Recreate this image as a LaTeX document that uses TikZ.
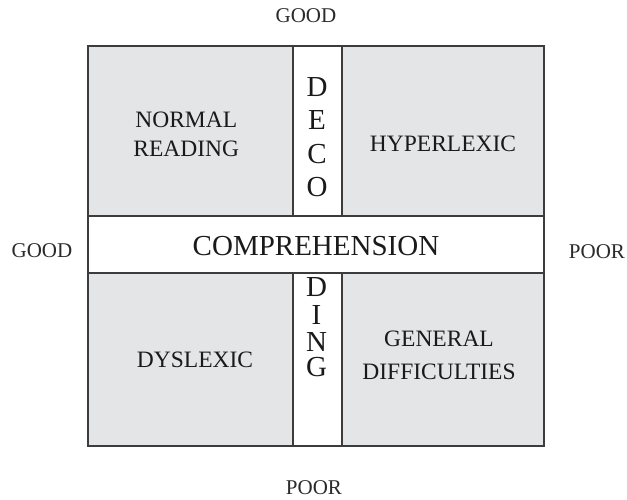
\documentclass[tikz,border=0pt]{standalone}
\usepackage{fontspec}
\setmainfont{Liberation Serif}
\definecolor{cellgray}{HTML}{E4E5E7}
\definecolor{linegray}{HTML}{3C3C3C}
\definecolor{txt}{HTML}{1A1A1A}
\definecolor{axtxt}{HTML}{2A2A2A}
\begin{document}
\begin{tikzpicture}[x=1pt,y=-1pt,
  lbl/.style={anchor=base,inner sep=0pt,text=txt,font=\fontsize{23.5}{28}\selectfont},
  axis/.style={anchor=base,inner sep=0pt,text=axtxt,font=\fontsize{21}{25}\selectfont},
  big/.style={anchor=base,inner sep=0pt,text=txt,font=\fontsize{29}{34}\selectfont},
  frame/.style={draw=linegray,line width=2pt}]
\useasboundingbox (0,0) rectangle (627,499);
% fills
\fill[cellgray] (88,46) rectangle (544,446);
\fill[white] (293.3,46) rectangle (341.7,446);
\fill[white] (88,216) rectangle (544,273);
% lines
\draw[frame] (293.3,46) -- (293.3,216);
\draw[frame] (341.7,46) -- (341.7,216);
\draw[frame] (293.3,273) -- (293.3,446);
\draw[frame] (341.7,273) -- (341.7,446);
\draw[frame] (88,216) -- (544,216);
\draw[frame] (88,273) -- (544,273);
\draw[frame] (88,46) rectangle (544,446);
% axis labels
\node[axis] (gtop) at (306,22.7) {GOOD};
\node[axis] (pbot) at (314,494.5) {POOR};
\node[axis] (gleft) at (42,257.3) {GOOD};
\node[axis] (pright) at (597,258) {POOR};
% comprehension
\node[big] (comp) at (316,255.7) {COMPREHENSION};
% quadrant labels
\node[lbl] (nr1) at (186.3,127.3) {NORMAL};
\node[lbl] (nr2) at (186.3,156) {READING};
\node[lbl] (hyp) at (443,151.7) {HYPERLEXIC};
\node[lbl] (dys) at (195,367.3) {DYSLEXIC};
\node[lbl] (gd1) at (439,346.7) {GENERAL};
\node[lbl] (gd2) at (439,379.3) {DIFFICULTIES};
% decoding letters
\node[big] (d1) at (317,96) {D};
\node[big] (d2) at (317,129.3) {E};
\node[big] (d3) at (317,163) {C};
\node[big] (d4) at (317,196) {O};
\node[big] (d5) at (316.5,296.7) {D};
\node[big] (d6) at (316.5,324.3) {I};
\node[big] (d7) at (316.5,351.7) {N};
\node[big] (d8) at (316.5,376) {G};
\end{tikzpicture}
\end{document}
